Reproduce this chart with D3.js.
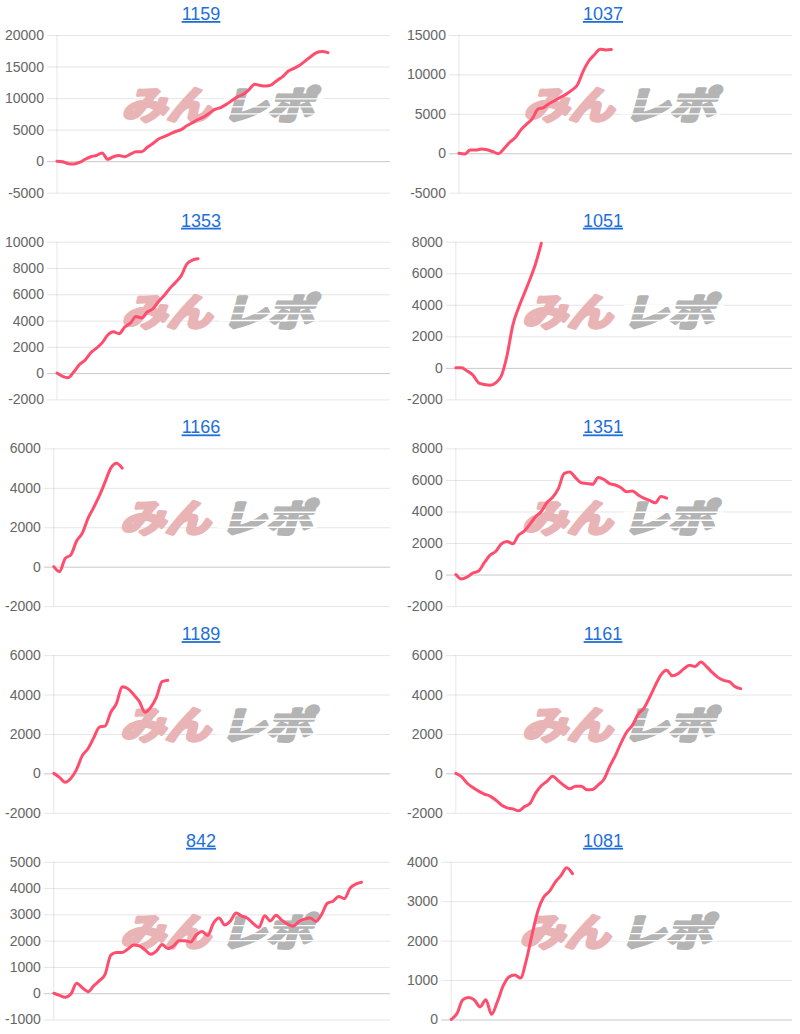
<!DOCTYPE html>
<html>
<head>
<meta charset="utf-8">
<script src="https://cdn.jsdelivr.net/npm/d3@7"></script>
<style>
  body { margin: 0; background: #fff; }
</style>
</head>
<body>
<div id="my_dataviz"></div>
<script>
// titles (machine numbers)
var titles = ["1159", "1037", "1353", "1051", "1166", "1351", "1189", "1161", "842", "1081"];

// y tick labels per chart
var ticks1159 = [-5000, 0, 5000, 10000, 15000, 20000];
var ticks1037 = [-5000, 0, 5000, 10000, 15000];
var ticks1353 = [-2000, 0, 2000, 4000, 6000, 8000, 10000];
var ticks1051 = [-2000, 0, 2000, 4000, 6000, 8000];
var ticks1166 = [-2000, 0, 2000, 4000, 6000];
var ticks1351 = [-2000, 0, 2000, 4000, 6000, 8000];
var ticks1189 = [-2000, 0, 2000, 4000, 6000];
var ticks1161 = [-2000, 0, 2000, 4000, 6000];
var ticks842  = [-1000, 0, 1000, 2000, 3000, 4000, 5000];
var ticks1081 = [0, 1000, 2000, 3000, 4000];

// series values
var values1159 = [0, -100, -400, -450, -200, 300, 700, 900, 1300, 300, 700, 900, 700, 1100, 1500,
  1500, 2200, 2800, 3500, 3900, 4300, 4700, 5000, 5600, 6100, 6600, 7000, 7600, 8200, 8500,
  9000, 9600, 10200, 10600, 11300, 12200, 12000, 11900, 12100, 12800, 13400, 14300, 14700, 15200, 15900,
  16600, 17200, 17400, 17200];
var values1037 = [0, -100, 400, 400, 550, 450, 200, -50, 600, 1400, 2000, 3000, 3700, 4400, 5600,
  5800, 6300, 6700, 7100, 7500, 8000, 8700, 10400, 11700, 12500, 13200, 13100, 13150];
var values1353 = [0, -250, -350, 100, 650, 1000, 1550, 1900, 2300, 2900, 3150, 3000, 3500, 3800, 4300,
  4200, 4650, 4900, 5450, 5900, 6450, 6900, 7400, 8300, 8600, 8700];
var values1051 = [0, 0, -200, -450, -950, -1050, -1100, -950, -500, 800, 2700, 3800, 4700, 5600, 6600, 7900];
var values1166 = [0, -250, 420, 600, 1300, 1700, 2450, 3000, 3600, 4300, 5000, 5250, 5000];
var values1351 = [0, -280, -150, 100, 230, 750, 1230, 1460, 1950, 2100, 1950, 2500, 2750, 3200, 3670,
  4000, 4570, 4900, 5450, 6400, 6500, 6150, 5820, 5780, 5720, 6150, 6030, 5770, 5680, 5500,
  5250, 5300, 5050, 4850, 4700, 4550, 4950, 4850];
var values1189 = [0, -200, -450, -250, 200, 900, 1250, 1800, 2350, 2400, 3100, 3550, 4400, 4300, 4000,
  3650, 3100, 3350, 3850, 4650, 4720];
var values1161 = [0, -170, -500, -720, -900, -1050, -1150, -1350, -1600, -1750, -1800, -1900, -1700, -1530, -1000,
  -630, -400, -150, -380, -620, -780, -650, -650, -830, -820, -580, -300, 350, 900, 1550,
  2100, 2450, 3000, 3300, 3850, 4450, 5000, 5230, 4950, 5050, 5300, 5480, 5420, 5650, 5420,
  5120, 4870, 4720, 4650, 4400, 4300];
var values842 = [0, -80, -150, -30, 380, 210, 60, 280, 480, 720, 1450, 1550, 1550, 1680, 1830,
  1800, 1650, 1480, 1600, 1850, 1700, 1800, 2000, 2000, 1950, 2220, 2350, 2200, 2660, 2860,
  2600, 2750, 3050, 2930, 2850, 2650, 2500, 2950, 2750, 2970, 2780, 2630, 2550, 2730, 2820,
  2860, 2730, 3000, 3420, 3500, 3680, 3600, 4000, 4150, 4220];
var values1081 = [0, 150, 500, 560, 500, 320, 500, 130, 450, 850, 1080, 1130, 1050, 1500, 2150,
  2750, 3100, 3250, 3480, 3650, 3850, 3700];

var allTicks = [ticks1159, ticks1037, ticks1353, ticks1051, ticks1166, ticks1351, ticks1189, ticks1161, ticks842, ticks1081];
var allValues = [values1159, values1037, values1353, values1051, values1166, values1351, values1189, values1161, values842, values1081];

var width = 800, height = 1034;
var colX = [0, 402], rowH = 206.7;
var plotTop = 35, plotBottom = 192.7;
var slotCount = 60;
var lineColor = "#ff4d6d";

var svg = d3.select("#my_dataviz")
  .append("svg")
  .attr("width", width)
  .attr("height", height)
  .style("font-family", "'Liberation Sans', Arial, sans-serif");

titles.forEach(function(title, k) {
  var ticks = allTicks[k], values = allValues[k];
  var x0 = colX[k % 2], y0 = Math.floor(k / 2) * rowH;
  var g = svg.append("g").attr("transform", "translate(" + x0 + "," + y0 + ")");

  // title
  g.append("text")
    .attr("x", 201)
    .attr("y", 20)
    .attr("text-anchor", "middle")
    .style("font-size", "18px")
    .style("fill", "#1e6fd9")
    .style("text-decoration", "underline")
    .text(title);

  // measure tick labels to place the axis
  var tmp = g.selectAll(".tmp").data(ticks).enter().append("text")
    .style("font-size", "14px").text(function(d) { return String(d); });
  var maxW = d3.max(tmp.nodes(), function(n) { return n.getComputedTextLength(); });
  tmp.remove();

  var left = 5 + maxW + 13, right = 390;

  var y = d3.scaleLinear()
    .domain([ticks[0], ticks[ticks.length - 1]])
    .range([plotBottom, plotTop]);
  var x = d3.scaleLinear()
    .domain([0, slotCount - 1])
    .range([left, right]);

  var axis = g.append("g")
    .attr("transform", "translate(" + (left - 10) + ",0)")
    .call(d3.axisLeft(y)
      .tickValues(ticks)
      .tickSize(-(right - left + 10))
      .tickPadding(3)
      .tickFormat(function(d) { return String(d); }));
  axis.select(".domain").remove();
  axis.selectAll(".tick line")
    .style("stroke", function(d) { return d === 0 ? "rgba(0,0,0,0.22)" : "rgba(0,0,0,0.1)"; })
    .style("stroke-width", 1);
  axis.selectAll(".tick text")
    .style("font-size", "14px")
    .style("fill", "#666")
    .style("font-family", "'Liberation Sans', Arial, sans-serif");

  g.append("line")
    .attr("x1", left).attr("x2", left)
    .attr("y1", plotTop).attr("y2", plotBottom)
    .style("stroke", "rgba(0,0,0,0.1)");

  // watermark (heavy italic logo text)
  var cx = (left + right) / 2 - 2, cy = (plotTop + plotBottom) / 2 - 9;
  var wm = g.append("g").attr("transform", "translate(" + cx + "," + cy + ") skewX(-16)");
  wm.append("text")
    .attr("x", -96).attr("y", 14)
    .attr("textLength", 90).attr("lengthAdjust", "spacingAndGlyphs")
    .style("font-family", "'Noto Sans CJK JP'")
    .style("font-weight", 700)
    .style("font-size", "38px")
    .style("fill", "#e9b4b6")
    .style("stroke", "#e9b4b6")
    .style("stroke-width", 3.5)
    .style("stroke-linejoin", "round")
    .text("みん");
  wm.append("text")
    .attr("x", 4).attr("y", 14)
    .attr("textLength", 92).attr("lengthAdjust", "spacingAndGlyphs")
    .style("font-family", "'Noto Sans CJK JP'")
    .style("font-weight", 700)
    .style("font-size", "38px")
    .style("fill", "#b4b4b4")
    .style("stroke", "#b4b4b4")
    .style("stroke-width", 3.5)
    .style("stroke-linejoin", "round")
    .text("レポ");
  [-6, 2, 9].forEach(function(dy) {
    wm.append("line")
      .attr("x1", 0).attr("x2", 100)
      .attr("y1", dy).attr("y2", dy)
      .style("stroke", "#fff")
      .style("stroke-width", 1.4);
  });

  // data line
  var line = d3.line()
    .x(function(d, i) { return x(i); })
    .y(function(d) { return y(d); })
    .curve(d3.curveMonotoneX);

  g.append("path")
    .datum(values)
    .attr("d", line)
    .style("fill", "none")
    .style("stroke", lineColor)
    .style("stroke-width", 3)
    .style("stroke-linejoin", "round")
    .style("stroke-linecap", "round");
});
</script>
</body>
</html>
